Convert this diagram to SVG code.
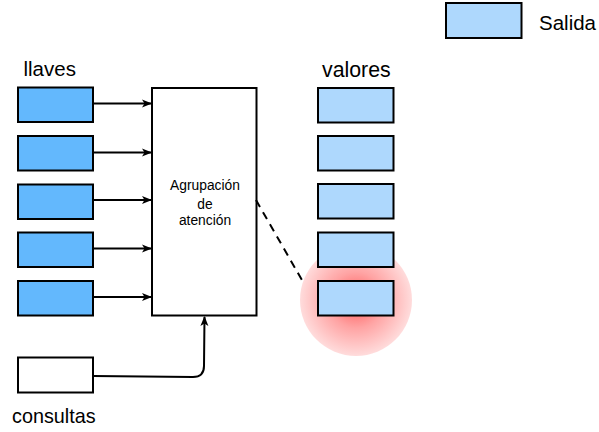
<svg xmlns="http://www.w3.org/2000/svg" width="599" height="432" viewBox="0 0 599 432">
  <style>
    .key { fill: #63b8fd; stroke: #000; stroke-width: 2; }
    .val { fill: #aed8fd; stroke: #000; stroke-width: 2; }
    .plain { fill: #fff; stroke: #000; stroke-width: 2; }
    .label { font-family: "Liberation Sans", Arial, sans-serif; font-size: 20.5px; fill: #000; }
    .small { font-family: "Liberation Sans", Arial, sans-serif; font-size: 13.8px; fill: #000; text-anchor: middle; }
    .conn { fill: none; stroke: #000; stroke-width: 2; }
  </style>
  <defs>
    <marker id="arrow" viewBox="0 0 10 10" refX="9" refY="5" markerWidth="5" markerHeight="5" orient="auto" markerUnits="strokeWidth">
      <path d="M0,1 L10,5 L0,9 L2.5,5 Z" fill="#000"/>
    </marker>
    <radialGradient id="glow" cx="0.5" cy="0.5" r="0.5">
      <stop offset="0" stop-color="#ff5555"/>
      <stop offset="0.5" stop-color="#ffa4a4"/>
      <stop offset="1" stop-color="#ffdcdc"/>
    </radialGradient>
  </defs>

  <rect width="599" height="432" fill="#fff"/>

  <!-- legend -->
  <g id="legend">
    <rect class="val" x="446" y="3" width="75.5" height="35"/>
    <text class="label" x="539" y="30">Salida</text>
  </g>

  <!-- highlight behind the selected value -->
  <circle id="highlight" cx="356" cy="300" r="56" fill="url(#glow)"/>

  <!-- keys -->
  <g id="keys">
    <text class="label" x="23.5" y="75.5">llaves</text>
    <rect id="key1" class="key" x="18" y="87.5" width="75" height="34.5"/>
    <rect id="key2" class="key" x="18" y="136" width="75" height="34.5"/>
    <rect id="key3" class="key" x="18" y="184.5" width="75" height="34.5"/>
    <rect id="key4" class="key" x="18" y="232.5" width="75" height="34.5"/>
    <rect id="key5" class="key" x="18" y="281" width="75" height="34.5"/>
  </g>

  <!-- values -->
  <g id="values">
    <text class="label" x="322" y="76.5" style="font-size:21.3px">valores</text>
    <rect id="val1" class="val" x="318" y="88" width="75.5" height="34.5"/>
    <rect id="val2" class="val" x="318" y="136" width="75.5" height="34.5"/>
    <rect id="val3" class="val" x="318" y="184" width="75.5" height="34.5"/>
    <rect id="val4" class="val" x="318" y="232.5" width="75.5" height="34.5"/>
    <rect id="val5" class="val" x="318" y="281" width="75.5" height="34.5"/>
  </g>

  <!-- queries -->
  <g id="queries">
    <rect class="plain" x="18" y="357.5" width="75" height="35"/>
    <text class="label" x="12" y="423" style="font-size:19.8px">consultas</text>
  </g>

  <!-- attention pooling block -->
  <g id="pooling">
    <rect class="plain" x="152" y="88" width="104.5" height="227.5"/>
    <text class="small" x="205" y="190">Agrupación</text>
    <text class="small" x="205" y="209">de</text>
    <text class="small" x="205" y="225">atención</text>
  </g>

  <!-- connectors -->
  <g id="connectors">
    <line class="conn" x1="93" y1="103.5" x2="151" y2="103.5" marker-end="url(#arrow)"/>
    <line class="conn" x1="93" y1="152.5" x2="151" y2="152.5" marker-end="url(#arrow)"/>
    <line class="conn" x1="93" y1="200" x2="151" y2="200" marker-end="url(#arrow)"/>
    <line class="conn" x1="93" y1="248.5" x2="151" y2="248.5" marker-end="url(#arrow)"/>
    <line class="conn" x1="93" y1="297" x2="151" y2="297" marker-end="url(#arrow)"/>
    <path class="conn" d="M93,376 L193,377 Q204,377 204,366 L204.5,317" marker-end="url(#arrow)"/>
    <line class="conn" x1="256" y1="200" x2="302.5" y2="281" stroke-dasharray="8,6"/>
  </g>
</svg>
